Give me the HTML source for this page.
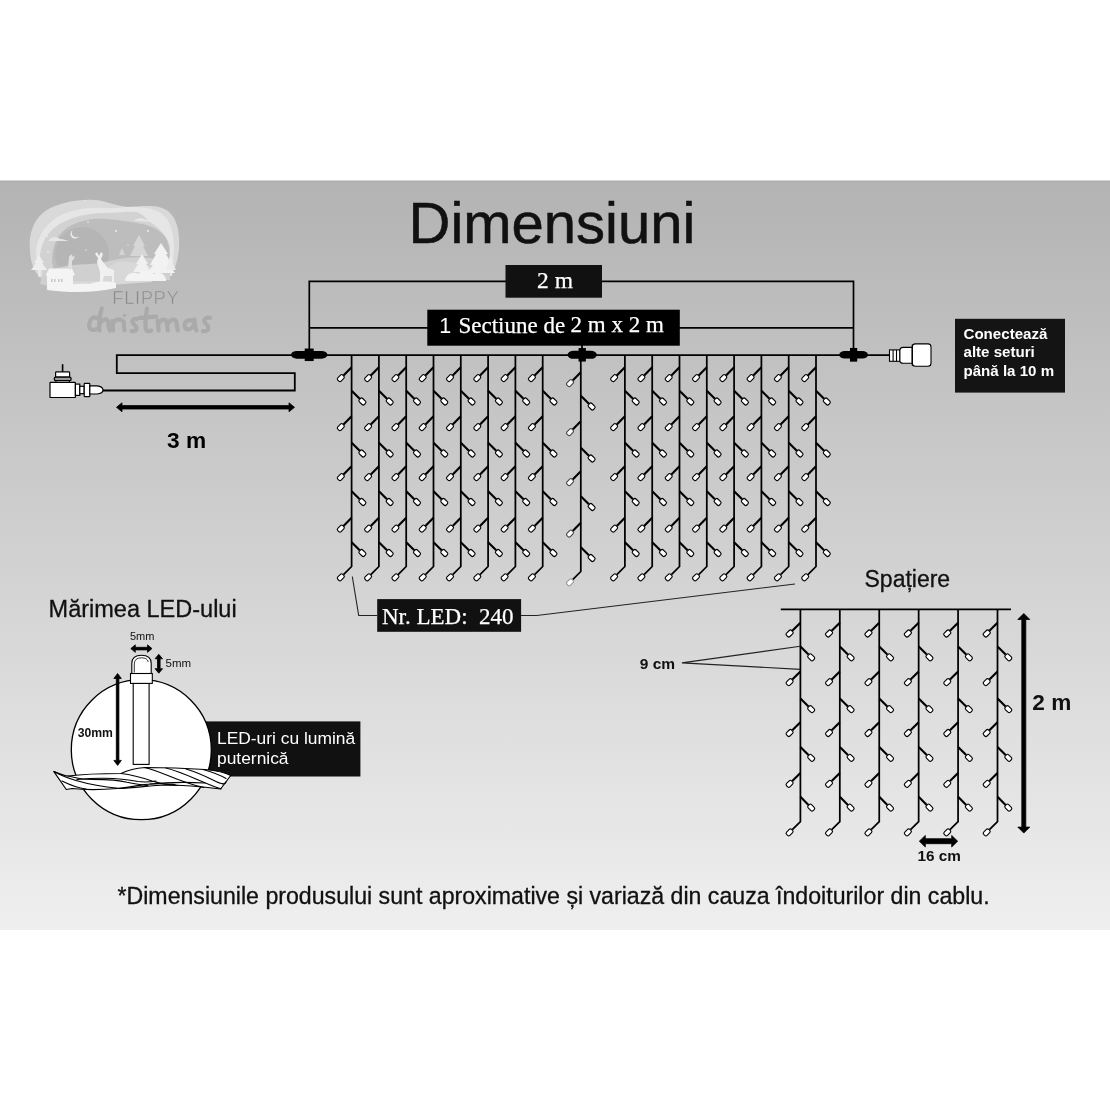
<!DOCTYPE html>
<html><head><meta charset="utf-8"><style>
html,body{margin:0;padding:0;background:#fff;width:1110px;height:1110px;overflow:hidden}
svg{display:block;font-family:"Liberation Sans",sans-serif;will-change:transform}
</style></head><body>
<svg width="1110" height="1110" viewBox="0 0 1110 1110">
<defs><linearGradient id="bg" x1="0" y1="0" x2="0" y2="1"><stop offset="0" stop-color="#b3b3b3"/><stop offset="1" stop-color="#efefef"/></linearGradient></defs>
<rect x="0" y="181" width="1110" height="749" fill="url(#bg)"/>
<rect x="0" y="180.5" width="1110" height="1.2" fill="#ababab"/>
<g>
<path d="M30,250 C28,228 38,212 55,206 C68,201 82,199 95,200 C108,201 118,207 130,207 C145,206 158,204 168,211 C177,218 180,232 179,248 C178,262 174,272 169,277 L160,281 L112,281 C104,283 98,286 90,288 C80,291 70,292 62,290 C50,286 40,279 35,271 C32,265 30,258 30,250 Z" fill="#d9d9d9"/>
<path d="M36,252 C38,232 50,219 66,213 C80,208 92,207 104,208 C116,209 126,206 138,207 C150,208 160,210 166,218 C172,226 174,236 174,250 L172,276 L40,276 C37,268 36,260 36,252 Z" fill="#e6e6e6"/>
<path d="M40,255 C42,238 52,226 68,220 C80,215 92,213 104,213 C116,213 126,211 136,212 C142,213 145,218 150,222 C158,227 166,234 170,246 L170,276 L42,276 Z" fill="#d2d2d2"/>
<path d="M52,262 C52,244 58,232 72,225 C84,219 96,218 108,219 C120,220 132,222 142,224 C152,226 160,230 166,238 C170,246 170,256 168,270 L56,280 Z" fill="#bdbdbd"/>
<circle cx="82" cy="254" r="27" fill="#b5b5b5"/>
<path d="M52,270 C70,262 90,266 105,262 C120,258 135,256 150,258 C160,259 166,262 170,265 L170,280 L52,282 Z" fill="#d0d0d0"/>
<path d="M96,286 C102,276 108,264 118,262 C128,260 140,264 150,266 L152,282 Z" fill="#d8d8d8"/>
<path d="M42,276 L50,268 L54,274 L48,286 L40,284 Z" fill="#cfcfcf"/>
<path d="M39,255 L44,263 L42,263 L47,270 L31,270 L36,263 L34,263 Z" fill="#eeeeee"/>
<rect x="38.5" y="269" width="1.4" height="8" fill="#eeeeee"/>
<path d="M45.5,275.5 L49,268.5 L72,268.5 L75,275.5 Z" fill="#f4f4f4"/>
<rect x="47" y="275" width="26" height="14.5" fill="#f4f4f4"/>
<rect x="51" y="279" width="1.6" height="3" fill="#c8c8c8"/><rect x="54" y="279" width="1.6" height="3" fill="#c8c8c8"/>
<rect x="58" y="279" width="1.6" height="3" fill="#c8c8c8"/><rect x="61" y="279" width="1.6" height="3" fill="#c8c8c8"/>
<path d="M69,257 L71,254 L73,257 L75,255 L74,259 L72,261 L72,268 L70,270 L68,268 Z" fill="#dedede"/>
<path d="M95,254 L97,252 L99,256 L101,252 L103,254 L101,259 L103,262 L108,268 L114,270 L114,282 L112,283 L112,276 L104,276 L102,284 L100,284 L100,272 L97,262 L98,258 Z" fill="#f0f0f0"/>
<path d="M139,235 L145,246 L143,246 L148,256 L130,256 L135,246 L133,246 Z" fill="#d6d6d6"/>
<path d="M122,248 L125,255 L119,255 Z" fill="#d4d4d4"/>
<path d="M142,254 L148,264 L146,264 L151,272 L133,272 L138,264 L136,264 Z" fill="#f0f0f0"/>
<path d="M161,243 L168,254 L166,254 L172,265 L169,265 L175,273 L147,273 L153,265 L150,265 L156,254 L154,254 Z" fill="#f2f2f2"/>
<rect x="160" y="272" width="1.6" height="9" fill="#f0f0f0"/>
<path d="M170,256 L174,262 L172,262 L176,270 L166,270 Z" fill="#ececec"/>
<path d="M125,281 C126,274 132,271 138,274 C142,270 150,270 154,274 C158,271 164,273 166,279 L166,281 Z" fill="#f3f3f3"/>
<path d="M46,290 C60,285 75,283 90,284 C98,281 108,281 116,283 L116,288 C95,293 70,293 46,290 Z" fill="#f4f4f4"/>
<path d="M73,230 A4.5,4.5 0 1 0 79,236 A3.5,3.5 0 0 1 73,230 Z" fill="#eeeeee"/>
<circle cx="116" cy="231" r="0.9" fill="#f5f5f5"/><circle cx="148" cy="231" r="0.9" fill="#f5f5f5"/>
<circle cx="88" cy="222" r="0.7" fill="#f5f5f5"/><circle cx="47" cy="236" r="0.7" fill="#f5f5f5"/>
<circle cx="48" cy="252" r="0.8" fill="#f5f5f5"/><circle cx="86" cy="250" r="0.7" fill="#f5f5f5"/>
<circle cx="128" cy="245" r="0.6" fill="#f5f5f5"/><circle cx="85" cy="201" r="0.6" fill="#f5f5f5"/>
<path d="M48,241 C50,237 56,236 60,239 C64,239 68,241 69,241 Z" fill="#e6e6e6"/>
<path d="M134,221 C136,218 142,217 146,220 C150,220 153,222 154,222 Z" fill="#e6e6e6"/>
</g>
<text x="112.3" y="303.8" font-family="Liberation Sans" font-size="18.5" fill="#8a8a8a" stroke="#bdbdbd" stroke-width="0.55" textLength="66.5" lengthAdjust="spacing" style="font-weight:normal">FLIPPY</text>
<g transform="translate(80.2,281) scale(0.1285,0.1261)" fill="none" stroke="#aaaaaa" stroke-width="33" stroke-linecap="round" stroke-linejoin="round">
<path d="M128,292 C100,280 72,305 70,345 C68,385 95,400 130,380"/>
<path d="M168,218 C150,270 145,340 150,392 M152,340 C165,310 195,295 210,310 C225,325 215,370 232,392"/>
<path d="M250,318 C255,350 252,375 255,392 M255,335 C270,305 295,298 318,310"/>
<path d="M338,322 C342,350 340,375 345,392"/>
<path d="M440,300 C410,295 392,318 420,345 C450,370 445,400 400,398"/>
<path d="M520,218 C510,280 505,350 512,388 C518,402 540,400 552,392 M462,292 C500,290 550,285 592,282"/>
<path d="M602,315 C608,345 606,370 610,392 M608,340 C625,305 660,295 672,320 C680,345 676,370 682,392 M680,340 C700,305 735,295 748,320 C755,345 752,370 760,392"/>
<path d="M880,318 C845,300 810,320 812,355 C815,392 860,395 882,352 M890,305 C892,340 890,370 905,392"/>
<path d="M1010,292 C975,285 950,308 978,338 C1005,365 1010,400 955,398"/>
<circle cx="345" cy="272" r="13" fill="#aaaaaa" stroke="none"/>
</g>
<text x="408.5" y="243.2" font-family="Liberation Sans" font-size="58" fill="#111" stroke="#111" stroke-width="0.55">Dimensiuni</text>
<polyline points="309.3,355 309.3,281.3 853.5,281.3 853.5,355" fill="none" stroke="#000" stroke-width="1.7"/>
<line x1="309.3" y1="327.8" x2="853.5" y2="327.8" stroke="#000" stroke-width="1.8"/>
<line x1="582" y1="340" x2="582" y2="355" stroke="#000" stroke-width="1.8"/>
<rect x="505.5" y="265" width="96.5" height="32.7" fill="#111"/>
<text x="537" y="287.5" font-family="Liberation Serif" font-size="23.5" fill="#fff" stroke="#fff" stroke-width="0.25">2 m</text>
<rect x="427.3" y="309.7" width="252.5" height="36" fill="#000"/>
<text x="439.3" y="332.8" font-family="Liberation Sans" font-size="21.5" fill="#fff">1</text>
<text x="458.5" y="332.8" font-family="Liberation Serif" font-size="23" fill="#fff" stroke="#fff" stroke-width="0.25">Sectiune de</text>
<text x="570.5" y="331.6" font-family="Liberation Serif" font-size="23" fill="#fff" stroke="#fff" stroke-width="0.25">2 m x 2 m</text>
<polyline points="102.7,390.5 294.8,390.5 294.8,373.1 116.8,373.1 116.8,355.2 889.5,355.2" fill="none" stroke="#000" stroke-width="1.8" stroke-linejoin="miter"/>
<path d="M116.5,407.3 L122.0,402.8 L122.0,405.6 L289.0,405.6 L289.0,402.8 L294.5,407.3 L289.0,411.8 L289.0,409.0 L122.0,409.0 L122.0,411.8 Z" fill="#000" stroke="#000" stroke-width="0.8" stroke-linejoin="round"/>
<text x="167" y="448" font-family="Liberation Sans" font-size="22.7" font-weight="bold" fill="#000">3 m</text>
<g fill="#fff" stroke="#000" stroke-width="1.2">
<line x1="62.6" y1="364.2" x2="62.6" y2="372" stroke-width="1.6"/>
<rect x="56" y="380" width="13.3" height="2.8" stroke-width="1"/>
<rect x="55.6" y="371.8" width="14" height="5.4" rx="0.8"/>
<rect x="54.2" y="377.2" width="17" height="3.4" rx="1.7" fill="#9a9a9a"/>
<rect x="50" y="382.3" width="25.4" height="15.2" rx="0.6"/>
<rect x="75.4" y="384.1" width="4.4" height="11.3"/>
<rect x="79.8" y="386.3" width="4.4" height="7.4"/>
<rect x="84.2" y="383.4" width="5.6" height="13.2" rx="0.5"/>
<path d="M89.8,385.9 L97,385.9 C100.5,386.3 103,387.8 103,390.1 C103,392.4 100.5,393.8 97,394 L89.8,394 Z"/>
</g>
<rect x="291.0" y="350.90000000000003" width="36.4" height="7.8" rx="5.85" ry="3.9" fill="#000"/><rect x="304.7" y="348.55" width="9" height="12.5" fill="#000"/>
<rect x="567.5500000000001" y="350.75" width="29.3" height="8.1" rx="6.074999999999999" ry="4.05" fill="#000"/><rect x="578.5500000000001" y="348.05" width="7.3" height="13.5" fill="#000"/>
<rect x="839.2" y="351.1" width="28.8" height="7.4" rx="5.550000000000001" ry="3.7" fill="#000"/><rect x="850.0" y="347.95" width="7.2" height="13.7" fill="#000"/>
<g fill="#fff" stroke="#000" stroke-width="1.1">
<rect x="889.5" y="349.9" width="10.4" height="11.4"/>
<line x1="893.1" y1="349.9" x2="893.1" y2="361.3"/><line x1="896.5" y1="349.9" x2="896.5" y2="361.3"/>
<path d="M899.9,349.9 Q900.3,347.4 903,347.4 L912.3,347.4 L912.3,363.2 L903,363.2 Q900.3,363.2 899.9,361.3 Z"/>
<rect x="912.3" y="343.9" width="18.7" height="22.3" rx="3" ry="3"/>
</g>
<line x1="912.3" y1="344.4" x2="912.3" y2="365.7" stroke="#000" stroke-width="1.1"/>
<rect x="955" y="318.8" width="110" height="73.8" fill="#141414"/>
<text x="963.5" y="339.3" font-family="Liberation Sans" font-size="15.1" font-weight="bold" fill="#fff">Conectează</text>
<text x="963.5" y="357.4" font-family="Liberation Sans" font-size="15.1" font-weight="bold" fill="#fff">alte seturi</text>
<text x="963.5" y="375.5" font-family="Liberation Sans" font-size="15.1" font-weight="bold" fill="#fff">până la 10 m</text>
<polyline points="351.60,355.00 351.60,566.50 343.50,574.60" fill="none" stroke="#000" stroke-width="1.75" stroke-linejoin="miter" />
<rect x="337.30" y="574.95" width="7.0" height="4.7" rx="1.6" fill="#fff" stroke="#000" stroke-width="1.1" transform="rotate(-45 340.80 577.30)"/>
<line x1="351.60" y1="367.30" x2="343.50" y2="375.40" stroke="#000" stroke-width="2.15"/>
<rect x="337.30" y="375.75" width="7.0" height="4.7" rx="1.6" fill="#fff" stroke="#000" stroke-width="1.1" transform="rotate(-45 340.80 378.10)"/>
<line x1="351.60" y1="416.30" x2="343.50" y2="424.40" stroke="#000" stroke-width="2.15"/>
<rect x="337.30" y="424.75" width="7.0" height="4.7" rx="1.6" fill="#fff" stroke="#000" stroke-width="1.1" transform="rotate(-45 340.80 427.10)"/>
<line x1="351.60" y1="466.30" x2="343.50" y2="474.40" stroke="#000" stroke-width="2.15"/>
<rect x="337.30" y="474.75" width="7.0" height="4.7" rx="1.6" fill="#fff" stroke="#000" stroke-width="1.1" transform="rotate(-45 340.80 477.10)"/>
<line x1="351.60" y1="517.80" x2="343.50" y2="525.90" stroke="#000" stroke-width="2.15"/>
<rect x="337.30" y="526.25" width="7.0" height="4.7" rx="1.6" fill="#fff" stroke="#000" stroke-width="1.1" transform="rotate(-45 340.80 528.60)"/>
<line x1="351.60" y1="390.70" x2="359.70" y2="398.80" stroke="#000" stroke-width="2.15"/>
<rect x="358.90" y="399.15" width="7.0" height="4.7" rx="1.6" fill="#fff" stroke="#000" stroke-width="1.1" transform="rotate(45 362.40 401.50)"/>
<line x1="351.60" y1="442.70" x2="359.70" y2="450.80" stroke="#000" stroke-width="2.15"/>
<rect x="358.90" y="451.15" width="7.0" height="4.7" rx="1.6" fill="#fff" stroke="#000" stroke-width="1.1" transform="rotate(45 362.40 453.50)"/>
<line x1="351.60" y1="491.20" x2="359.70" y2="499.30" stroke="#000" stroke-width="2.15"/>
<rect x="358.90" y="499.65" width="7.0" height="4.7" rx="1.6" fill="#fff" stroke="#000" stroke-width="1.1" transform="rotate(45 362.40 502.00)"/>
<line x1="351.60" y1="542.20" x2="359.70" y2="550.30" stroke="#000" stroke-width="2.15"/>
<rect x="358.90" y="550.65" width="7.0" height="4.7" rx="1.6" fill="#fff" stroke="#000" stroke-width="1.1" transform="rotate(45 362.40 553.00)"/>
<polyline points="378.90,355.00 378.90,566.50 370.80,574.60" fill="none" stroke="#000" stroke-width="1.75" stroke-linejoin="miter" />
<rect x="364.60" y="574.95" width="7.0" height="4.7" rx="1.6" fill="#fff" stroke="#000" stroke-width="1.1" transform="rotate(-45 368.10 577.30)"/>
<line x1="378.90" y1="367.30" x2="370.80" y2="375.40" stroke="#000" stroke-width="2.15"/>
<rect x="364.60" y="375.75" width="7.0" height="4.7" rx="1.6" fill="#fff" stroke="#000" stroke-width="1.1" transform="rotate(-45 368.10 378.10)"/>
<line x1="378.90" y1="416.30" x2="370.80" y2="424.40" stroke="#000" stroke-width="2.15"/>
<rect x="364.60" y="424.75" width="7.0" height="4.7" rx="1.6" fill="#fff" stroke="#000" stroke-width="1.1" transform="rotate(-45 368.10 427.10)"/>
<line x1="378.90" y1="466.30" x2="370.80" y2="474.40" stroke="#000" stroke-width="2.15"/>
<rect x="364.60" y="474.75" width="7.0" height="4.7" rx="1.6" fill="#fff" stroke="#000" stroke-width="1.1" transform="rotate(-45 368.10 477.10)"/>
<line x1="378.90" y1="517.80" x2="370.80" y2="525.90" stroke="#000" stroke-width="2.15"/>
<rect x="364.60" y="526.25" width="7.0" height="4.7" rx="1.6" fill="#fff" stroke="#000" stroke-width="1.1" transform="rotate(-45 368.10 528.60)"/>
<line x1="378.90" y1="390.70" x2="387.00" y2="398.80" stroke="#000" stroke-width="2.15"/>
<rect x="386.20" y="399.15" width="7.0" height="4.7" rx="1.6" fill="#fff" stroke="#000" stroke-width="1.1" transform="rotate(45 389.70 401.50)"/>
<line x1="378.90" y1="442.70" x2="387.00" y2="450.80" stroke="#000" stroke-width="2.15"/>
<rect x="386.20" y="451.15" width="7.0" height="4.7" rx="1.6" fill="#fff" stroke="#000" stroke-width="1.1" transform="rotate(45 389.70 453.50)"/>
<line x1="378.90" y1="491.20" x2="387.00" y2="499.30" stroke="#000" stroke-width="2.15"/>
<rect x="386.20" y="499.65" width="7.0" height="4.7" rx="1.6" fill="#fff" stroke="#000" stroke-width="1.1" transform="rotate(45 389.70 502.00)"/>
<line x1="378.90" y1="542.20" x2="387.00" y2="550.30" stroke="#000" stroke-width="2.15"/>
<rect x="386.20" y="550.65" width="7.0" height="4.7" rx="1.6" fill="#fff" stroke="#000" stroke-width="1.1" transform="rotate(45 389.70 553.00)"/>
<polyline points="406.20,355.00 406.20,566.50 398.10,574.60" fill="none" stroke="#000" stroke-width="1.75" stroke-linejoin="miter" />
<rect x="391.90" y="574.95" width="7.0" height="4.7" rx="1.6" fill="#fff" stroke="#000" stroke-width="1.1" transform="rotate(-45 395.40 577.30)"/>
<line x1="406.20" y1="367.30" x2="398.10" y2="375.40" stroke="#000" stroke-width="2.15"/>
<rect x="391.90" y="375.75" width="7.0" height="4.7" rx="1.6" fill="#fff" stroke="#000" stroke-width="1.1" transform="rotate(-45 395.40 378.10)"/>
<line x1="406.20" y1="416.30" x2="398.10" y2="424.40" stroke="#000" stroke-width="2.15"/>
<rect x="391.90" y="424.75" width="7.0" height="4.7" rx="1.6" fill="#fff" stroke="#000" stroke-width="1.1" transform="rotate(-45 395.40 427.10)"/>
<line x1="406.20" y1="466.30" x2="398.10" y2="474.40" stroke="#000" stroke-width="2.15"/>
<rect x="391.90" y="474.75" width="7.0" height="4.7" rx="1.6" fill="#fff" stroke="#000" stroke-width="1.1" transform="rotate(-45 395.40 477.10)"/>
<line x1="406.20" y1="517.80" x2="398.10" y2="525.90" stroke="#000" stroke-width="2.15"/>
<rect x="391.90" y="526.25" width="7.0" height="4.7" rx="1.6" fill="#fff" stroke="#000" stroke-width="1.1" transform="rotate(-45 395.40 528.60)"/>
<line x1="406.20" y1="390.70" x2="414.30" y2="398.80" stroke="#000" stroke-width="2.15"/>
<rect x="413.50" y="399.15" width="7.0" height="4.7" rx="1.6" fill="#fff" stroke="#000" stroke-width="1.1" transform="rotate(45 417.00 401.50)"/>
<line x1="406.20" y1="442.70" x2="414.30" y2="450.80" stroke="#000" stroke-width="2.15"/>
<rect x="413.50" y="451.15" width="7.0" height="4.7" rx="1.6" fill="#fff" stroke="#000" stroke-width="1.1" transform="rotate(45 417.00 453.50)"/>
<line x1="406.20" y1="491.20" x2="414.30" y2="499.30" stroke="#000" stroke-width="2.15"/>
<rect x="413.50" y="499.65" width="7.0" height="4.7" rx="1.6" fill="#fff" stroke="#000" stroke-width="1.1" transform="rotate(45 417.00 502.00)"/>
<line x1="406.20" y1="542.20" x2="414.30" y2="550.30" stroke="#000" stroke-width="2.15"/>
<rect x="413.50" y="550.65" width="7.0" height="4.7" rx="1.6" fill="#fff" stroke="#000" stroke-width="1.1" transform="rotate(45 417.00 553.00)"/>
<polyline points="433.50,355.00 433.50,566.50 425.40,574.60" fill="none" stroke="#000" stroke-width="1.75" stroke-linejoin="miter" />
<rect x="419.20" y="574.95" width="7.0" height="4.7" rx="1.6" fill="#fff" stroke="#000" stroke-width="1.1" transform="rotate(-45 422.70 577.30)"/>
<line x1="433.50" y1="367.30" x2="425.40" y2="375.40" stroke="#000" stroke-width="2.15"/>
<rect x="419.20" y="375.75" width="7.0" height="4.7" rx="1.6" fill="#fff" stroke="#000" stroke-width="1.1" transform="rotate(-45 422.70 378.10)"/>
<line x1="433.50" y1="416.30" x2="425.40" y2="424.40" stroke="#000" stroke-width="2.15"/>
<rect x="419.20" y="424.75" width="7.0" height="4.7" rx="1.6" fill="#fff" stroke="#000" stroke-width="1.1" transform="rotate(-45 422.70 427.10)"/>
<line x1="433.50" y1="466.30" x2="425.40" y2="474.40" stroke="#000" stroke-width="2.15"/>
<rect x="419.20" y="474.75" width="7.0" height="4.7" rx="1.6" fill="#fff" stroke="#000" stroke-width="1.1" transform="rotate(-45 422.70 477.10)"/>
<line x1="433.50" y1="517.80" x2="425.40" y2="525.90" stroke="#000" stroke-width="2.15"/>
<rect x="419.20" y="526.25" width="7.0" height="4.7" rx="1.6" fill="#fff" stroke="#000" stroke-width="1.1" transform="rotate(-45 422.70 528.60)"/>
<line x1="433.50" y1="390.70" x2="441.60" y2="398.80" stroke="#000" stroke-width="2.15"/>
<rect x="440.80" y="399.15" width="7.0" height="4.7" rx="1.6" fill="#fff" stroke="#000" stroke-width="1.1" transform="rotate(45 444.30 401.50)"/>
<line x1="433.50" y1="442.70" x2="441.60" y2="450.80" stroke="#000" stroke-width="2.15"/>
<rect x="440.80" y="451.15" width="7.0" height="4.7" rx="1.6" fill="#fff" stroke="#000" stroke-width="1.1" transform="rotate(45 444.30 453.50)"/>
<line x1="433.50" y1="491.20" x2="441.60" y2="499.30" stroke="#000" stroke-width="2.15"/>
<rect x="440.80" y="499.65" width="7.0" height="4.7" rx="1.6" fill="#fff" stroke="#000" stroke-width="1.1" transform="rotate(45 444.30 502.00)"/>
<line x1="433.50" y1="542.20" x2="441.60" y2="550.30" stroke="#000" stroke-width="2.15"/>
<rect x="440.80" y="550.65" width="7.0" height="4.7" rx="1.6" fill="#fff" stroke="#000" stroke-width="1.1" transform="rotate(45 444.30 553.00)"/>
<polyline points="460.80,355.00 460.80,566.50 452.70,574.60" fill="none" stroke="#000" stroke-width="1.75" stroke-linejoin="miter" />
<rect x="446.50" y="574.95" width="7.0" height="4.7" rx="1.6" fill="#fff" stroke="#000" stroke-width="1.1" transform="rotate(-45 450.00 577.30)"/>
<line x1="460.80" y1="367.30" x2="452.70" y2="375.40" stroke="#000" stroke-width="2.15"/>
<rect x="446.50" y="375.75" width="7.0" height="4.7" rx="1.6" fill="#fff" stroke="#000" stroke-width="1.1" transform="rotate(-45 450.00 378.10)"/>
<line x1="460.80" y1="416.30" x2="452.70" y2="424.40" stroke="#000" stroke-width="2.15"/>
<rect x="446.50" y="424.75" width="7.0" height="4.7" rx="1.6" fill="#fff" stroke="#000" stroke-width="1.1" transform="rotate(-45 450.00 427.10)"/>
<line x1="460.80" y1="466.30" x2="452.70" y2="474.40" stroke="#000" stroke-width="2.15"/>
<rect x="446.50" y="474.75" width="7.0" height="4.7" rx="1.6" fill="#fff" stroke="#000" stroke-width="1.1" transform="rotate(-45 450.00 477.10)"/>
<line x1="460.80" y1="517.80" x2="452.70" y2="525.90" stroke="#000" stroke-width="2.15"/>
<rect x="446.50" y="526.25" width="7.0" height="4.7" rx="1.6" fill="#fff" stroke="#000" stroke-width="1.1" transform="rotate(-45 450.00 528.60)"/>
<line x1="460.80" y1="390.70" x2="468.90" y2="398.80" stroke="#000" stroke-width="2.15"/>
<rect x="468.10" y="399.15" width="7.0" height="4.7" rx="1.6" fill="#fff" stroke="#000" stroke-width="1.1" transform="rotate(45 471.60 401.50)"/>
<line x1="460.80" y1="442.70" x2="468.90" y2="450.80" stroke="#000" stroke-width="2.15"/>
<rect x="468.10" y="451.15" width="7.0" height="4.7" rx="1.6" fill="#fff" stroke="#000" stroke-width="1.1" transform="rotate(45 471.60 453.50)"/>
<line x1="460.80" y1="491.20" x2="468.90" y2="499.30" stroke="#000" stroke-width="2.15"/>
<rect x="468.10" y="499.65" width="7.0" height="4.7" rx="1.6" fill="#fff" stroke="#000" stroke-width="1.1" transform="rotate(45 471.60 502.00)"/>
<line x1="460.80" y1="542.20" x2="468.90" y2="550.30" stroke="#000" stroke-width="2.15"/>
<rect x="468.10" y="550.65" width="7.0" height="4.7" rx="1.6" fill="#fff" stroke="#000" stroke-width="1.1" transform="rotate(45 471.60 553.00)"/>
<polyline points="488.10,355.00 488.10,566.50 480.00,574.60" fill="none" stroke="#000" stroke-width="1.75" stroke-linejoin="miter" />
<rect x="473.80" y="574.95" width="7.0" height="4.7" rx="1.6" fill="#fff" stroke="#000" stroke-width="1.1" transform="rotate(-45 477.30 577.30)"/>
<line x1="488.10" y1="367.30" x2="480.00" y2="375.40" stroke="#000" stroke-width="2.15"/>
<rect x="473.80" y="375.75" width="7.0" height="4.7" rx="1.6" fill="#fff" stroke="#000" stroke-width="1.1" transform="rotate(-45 477.30 378.10)"/>
<line x1="488.10" y1="416.30" x2="480.00" y2="424.40" stroke="#000" stroke-width="2.15"/>
<rect x="473.80" y="424.75" width="7.0" height="4.7" rx="1.6" fill="#fff" stroke="#000" stroke-width="1.1" transform="rotate(-45 477.30 427.10)"/>
<line x1="488.10" y1="466.30" x2="480.00" y2="474.40" stroke="#000" stroke-width="2.15"/>
<rect x="473.80" y="474.75" width="7.0" height="4.7" rx="1.6" fill="#fff" stroke="#000" stroke-width="1.1" transform="rotate(-45 477.30 477.10)"/>
<line x1="488.10" y1="517.80" x2="480.00" y2="525.90" stroke="#000" stroke-width="2.15"/>
<rect x="473.80" y="526.25" width="7.0" height="4.7" rx="1.6" fill="#fff" stroke="#000" stroke-width="1.1" transform="rotate(-45 477.30 528.60)"/>
<line x1="488.10" y1="390.70" x2="496.20" y2="398.80" stroke="#000" stroke-width="2.15"/>
<rect x="495.40" y="399.15" width="7.0" height="4.7" rx="1.6" fill="#fff" stroke="#000" stroke-width="1.1" transform="rotate(45 498.90 401.50)"/>
<line x1="488.10" y1="442.70" x2="496.20" y2="450.80" stroke="#000" stroke-width="2.15"/>
<rect x="495.40" y="451.15" width="7.0" height="4.7" rx="1.6" fill="#fff" stroke="#000" stroke-width="1.1" transform="rotate(45 498.90 453.50)"/>
<line x1="488.10" y1="491.20" x2="496.20" y2="499.30" stroke="#000" stroke-width="2.15"/>
<rect x="495.40" y="499.65" width="7.0" height="4.7" rx="1.6" fill="#fff" stroke="#000" stroke-width="1.1" transform="rotate(45 498.90 502.00)"/>
<line x1="488.10" y1="542.20" x2="496.20" y2="550.30" stroke="#000" stroke-width="2.15"/>
<rect x="495.40" y="550.65" width="7.0" height="4.7" rx="1.6" fill="#fff" stroke="#000" stroke-width="1.1" transform="rotate(45 498.90 553.00)"/>
<polyline points="515.40,355.00 515.40,566.50 507.30,574.60" fill="none" stroke="#000" stroke-width="1.75" stroke-linejoin="miter" />
<rect x="501.10" y="574.95" width="7.0" height="4.7" rx="1.6" fill="#fff" stroke="#000" stroke-width="1.1" transform="rotate(-45 504.60 577.30)"/>
<line x1="515.40" y1="367.30" x2="507.30" y2="375.40" stroke="#000" stroke-width="2.15"/>
<rect x="501.10" y="375.75" width="7.0" height="4.7" rx="1.6" fill="#fff" stroke="#000" stroke-width="1.1" transform="rotate(-45 504.60 378.10)"/>
<line x1="515.40" y1="416.30" x2="507.30" y2="424.40" stroke="#000" stroke-width="2.15"/>
<rect x="501.10" y="424.75" width="7.0" height="4.7" rx="1.6" fill="#fff" stroke="#000" stroke-width="1.1" transform="rotate(-45 504.60 427.10)"/>
<line x1="515.40" y1="466.30" x2="507.30" y2="474.40" stroke="#000" stroke-width="2.15"/>
<rect x="501.10" y="474.75" width="7.0" height="4.7" rx="1.6" fill="#fff" stroke="#000" stroke-width="1.1" transform="rotate(-45 504.60 477.10)"/>
<line x1="515.40" y1="517.80" x2="507.30" y2="525.90" stroke="#000" stroke-width="2.15"/>
<rect x="501.10" y="526.25" width="7.0" height="4.7" rx="1.6" fill="#fff" stroke="#000" stroke-width="1.1" transform="rotate(-45 504.60 528.60)"/>
<line x1="515.40" y1="390.70" x2="523.50" y2="398.80" stroke="#000" stroke-width="2.15"/>
<rect x="522.70" y="399.15" width="7.0" height="4.7" rx="1.6" fill="#fff" stroke="#000" stroke-width="1.1" transform="rotate(45 526.20 401.50)"/>
<line x1="515.40" y1="442.70" x2="523.50" y2="450.80" stroke="#000" stroke-width="2.15"/>
<rect x="522.70" y="451.15" width="7.0" height="4.7" rx="1.6" fill="#fff" stroke="#000" stroke-width="1.1" transform="rotate(45 526.20 453.50)"/>
<line x1="515.40" y1="491.20" x2="523.50" y2="499.30" stroke="#000" stroke-width="2.15"/>
<rect x="522.70" y="499.65" width="7.0" height="4.7" rx="1.6" fill="#fff" stroke="#000" stroke-width="1.1" transform="rotate(45 526.20 502.00)"/>
<line x1="515.40" y1="542.20" x2="523.50" y2="550.30" stroke="#000" stroke-width="2.15"/>
<rect x="522.70" y="550.65" width="7.0" height="4.7" rx="1.6" fill="#fff" stroke="#000" stroke-width="1.1" transform="rotate(45 526.20 553.00)"/>
<polyline points="542.70,355.00 542.70,566.50 534.60,574.60" fill="none" stroke="#000" stroke-width="1.75" stroke-linejoin="miter" />
<rect x="528.40" y="574.95" width="7.0" height="4.7" rx="1.6" fill="#fff" stroke="#000" stroke-width="1.1" transform="rotate(-45 531.90 577.30)"/>
<line x1="542.70" y1="367.30" x2="534.60" y2="375.40" stroke="#000" stroke-width="2.15"/>
<rect x="528.40" y="375.75" width="7.0" height="4.7" rx="1.6" fill="#fff" stroke="#000" stroke-width="1.1" transform="rotate(-45 531.90 378.10)"/>
<line x1="542.70" y1="416.30" x2="534.60" y2="424.40" stroke="#000" stroke-width="2.15"/>
<rect x="528.40" y="424.75" width="7.0" height="4.7" rx="1.6" fill="#fff" stroke="#000" stroke-width="1.1" transform="rotate(-45 531.90 427.10)"/>
<line x1="542.70" y1="466.30" x2="534.60" y2="474.40" stroke="#000" stroke-width="2.15"/>
<rect x="528.40" y="474.75" width="7.0" height="4.7" rx="1.6" fill="#fff" stroke="#000" stroke-width="1.1" transform="rotate(-45 531.90 477.10)"/>
<line x1="542.70" y1="517.80" x2="534.60" y2="525.90" stroke="#000" stroke-width="2.15"/>
<rect x="528.40" y="526.25" width="7.0" height="4.7" rx="1.6" fill="#fff" stroke="#000" stroke-width="1.1" transform="rotate(-45 531.90 528.60)"/>
<line x1="542.70" y1="390.70" x2="550.80" y2="398.80" stroke="#000" stroke-width="2.15"/>
<rect x="550.00" y="399.15" width="7.0" height="4.7" rx="1.6" fill="#fff" stroke="#000" stroke-width="1.1" transform="rotate(45 553.50 401.50)"/>
<line x1="542.70" y1="442.70" x2="550.80" y2="450.80" stroke="#000" stroke-width="2.15"/>
<rect x="550.00" y="451.15" width="7.0" height="4.7" rx="1.6" fill="#fff" stroke="#000" stroke-width="1.1" transform="rotate(45 553.50 453.50)"/>
<line x1="542.70" y1="491.20" x2="550.80" y2="499.30" stroke="#000" stroke-width="2.15"/>
<rect x="550.00" y="499.65" width="7.0" height="4.7" rx="1.6" fill="#fff" stroke="#000" stroke-width="1.1" transform="rotate(45 553.50 502.00)"/>
<line x1="542.70" y1="542.20" x2="550.80" y2="550.30" stroke="#000" stroke-width="2.15"/>
<rect x="550.00" y="550.65" width="7.0" height="4.7" rx="1.6" fill="#fff" stroke="#000" stroke-width="1.1" transform="rotate(45 553.50 553.00)"/>
<polyline points="624.90,355.00 624.90,566.50 616.80,574.60" fill="none" stroke="#000" stroke-width="1.75" stroke-linejoin="miter" />
<rect x="610.60" y="574.95" width="7.0" height="4.7" rx="1.6" fill="#fff" stroke="#000" stroke-width="1.1" transform="rotate(-45 614.10 577.30)"/>
<line x1="624.90" y1="367.30" x2="616.80" y2="375.40" stroke="#000" stroke-width="2.15"/>
<rect x="610.60" y="375.75" width="7.0" height="4.7" rx="1.6" fill="#fff" stroke="#000" stroke-width="1.1" transform="rotate(-45 614.10 378.10)"/>
<line x1="624.90" y1="416.30" x2="616.80" y2="424.40" stroke="#000" stroke-width="2.15"/>
<rect x="610.60" y="424.75" width="7.0" height="4.7" rx="1.6" fill="#fff" stroke="#000" stroke-width="1.1" transform="rotate(-45 614.10 427.10)"/>
<line x1="624.90" y1="466.30" x2="616.80" y2="474.40" stroke="#000" stroke-width="2.15"/>
<rect x="610.60" y="474.75" width="7.0" height="4.7" rx="1.6" fill="#fff" stroke="#000" stroke-width="1.1" transform="rotate(-45 614.10 477.10)"/>
<line x1="624.90" y1="517.80" x2="616.80" y2="525.90" stroke="#000" stroke-width="2.15"/>
<rect x="610.60" y="526.25" width="7.0" height="4.7" rx="1.6" fill="#fff" stroke="#000" stroke-width="1.1" transform="rotate(-45 614.10 528.60)"/>
<line x1="624.90" y1="390.70" x2="633.00" y2="398.80" stroke="#000" stroke-width="2.15"/>
<rect x="632.20" y="399.15" width="7.0" height="4.7" rx="1.6" fill="#fff" stroke="#000" stroke-width="1.1" transform="rotate(45 635.70 401.50)"/>
<line x1="624.90" y1="442.70" x2="633.00" y2="450.80" stroke="#000" stroke-width="2.15"/>
<rect x="632.20" y="451.15" width="7.0" height="4.7" rx="1.6" fill="#fff" stroke="#000" stroke-width="1.1" transform="rotate(45 635.70 453.50)"/>
<line x1="624.90" y1="491.20" x2="633.00" y2="499.30" stroke="#000" stroke-width="2.15"/>
<rect x="632.20" y="499.65" width="7.0" height="4.7" rx="1.6" fill="#fff" stroke="#000" stroke-width="1.1" transform="rotate(45 635.70 502.00)"/>
<line x1="624.90" y1="542.20" x2="633.00" y2="550.30" stroke="#000" stroke-width="2.15"/>
<rect x="632.20" y="550.65" width="7.0" height="4.7" rx="1.6" fill="#fff" stroke="#000" stroke-width="1.1" transform="rotate(45 635.70 553.00)"/>
<polyline points="652.20,355.00 652.20,566.50 644.10,574.60" fill="none" stroke="#000" stroke-width="1.75" stroke-linejoin="miter" />
<rect x="637.90" y="574.95" width="7.0" height="4.7" rx="1.6" fill="#fff" stroke="#000" stroke-width="1.1" transform="rotate(-45 641.40 577.30)"/>
<line x1="652.20" y1="367.30" x2="644.10" y2="375.40" stroke="#000" stroke-width="2.15"/>
<rect x="637.90" y="375.75" width="7.0" height="4.7" rx="1.6" fill="#fff" stroke="#000" stroke-width="1.1" transform="rotate(-45 641.40 378.10)"/>
<line x1="652.20" y1="416.30" x2="644.10" y2="424.40" stroke="#000" stroke-width="2.15"/>
<rect x="637.90" y="424.75" width="7.0" height="4.7" rx="1.6" fill="#fff" stroke="#000" stroke-width="1.1" transform="rotate(-45 641.40 427.10)"/>
<line x1="652.20" y1="466.30" x2="644.10" y2="474.40" stroke="#000" stroke-width="2.15"/>
<rect x="637.90" y="474.75" width="7.0" height="4.7" rx="1.6" fill="#fff" stroke="#000" stroke-width="1.1" transform="rotate(-45 641.40 477.10)"/>
<line x1="652.20" y1="517.80" x2="644.10" y2="525.90" stroke="#000" stroke-width="2.15"/>
<rect x="637.90" y="526.25" width="7.0" height="4.7" rx="1.6" fill="#fff" stroke="#000" stroke-width="1.1" transform="rotate(-45 641.40 528.60)"/>
<line x1="652.20" y1="390.70" x2="660.30" y2="398.80" stroke="#000" stroke-width="2.15"/>
<rect x="659.50" y="399.15" width="7.0" height="4.7" rx="1.6" fill="#fff" stroke="#000" stroke-width="1.1" transform="rotate(45 663.00 401.50)"/>
<line x1="652.20" y1="442.70" x2="660.30" y2="450.80" stroke="#000" stroke-width="2.15"/>
<rect x="659.50" y="451.15" width="7.0" height="4.7" rx="1.6" fill="#fff" stroke="#000" stroke-width="1.1" transform="rotate(45 663.00 453.50)"/>
<line x1="652.20" y1="491.20" x2="660.30" y2="499.30" stroke="#000" stroke-width="2.15"/>
<rect x="659.50" y="499.65" width="7.0" height="4.7" rx="1.6" fill="#fff" stroke="#000" stroke-width="1.1" transform="rotate(45 663.00 502.00)"/>
<line x1="652.20" y1="542.20" x2="660.30" y2="550.30" stroke="#000" stroke-width="2.15"/>
<rect x="659.50" y="550.65" width="7.0" height="4.7" rx="1.6" fill="#fff" stroke="#000" stroke-width="1.1" transform="rotate(45 663.00 553.00)"/>
<polyline points="679.50,355.00 679.50,566.50 671.40,574.60" fill="none" stroke="#000" stroke-width="1.75" stroke-linejoin="miter" />
<rect x="665.20" y="574.95" width="7.0" height="4.7" rx="1.6" fill="#fff" stroke="#000" stroke-width="1.1" transform="rotate(-45 668.70 577.30)"/>
<line x1="679.50" y1="367.30" x2="671.40" y2="375.40" stroke="#000" stroke-width="2.15"/>
<rect x="665.20" y="375.75" width="7.0" height="4.7" rx="1.6" fill="#fff" stroke="#000" stroke-width="1.1" transform="rotate(-45 668.70 378.10)"/>
<line x1="679.50" y1="416.30" x2="671.40" y2="424.40" stroke="#000" stroke-width="2.15"/>
<rect x="665.20" y="424.75" width="7.0" height="4.7" rx="1.6" fill="#fff" stroke="#000" stroke-width="1.1" transform="rotate(-45 668.70 427.10)"/>
<line x1="679.50" y1="466.30" x2="671.40" y2="474.40" stroke="#000" stroke-width="2.15"/>
<rect x="665.20" y="474.75" width="7.0" height="4.7" rx="1.6" fill="#fff" stroke="#000" stroke-width="1.1" transform="rotate(-45 668.70 477.10)"/>
<line x1="679.50" y1="517.80" x2="671.40" y2="525.90" stroke="#000" stroke-width="2.15"/>
<rect x="665.20" y="526.25" width="7.0" height="4.7" rx="1.6" fill="#fff" stroke="#000" stroke-width="1.1" transform="rotate(-45 668.70 528.60)"/>
<line x1="679.50" y1="390.70" x2="687.60" y2="398.80" stroke="#000" stroke-width="2.15"/>
<rect x="686.80" y="399.15" width="7.0" height="4.7" rx="1.6" fill="#fff" stroke="#000" stroke-width="1.1" transform="rotate(45 690.30 401.50)"/>
<line x1="679.50" y1="442.70" x2="687.60" y2="450.80" stroke="#000" stroke-width="2.15"/>
<rect x="686.80" y="451.15" width="7.0" height="4.7" rx="1.6" fill="#fff" stroke="#000" stroke-width="1.1" transform="rotate(45 690.30 453.50)"/>
<line x1="679.50" y1="491.20" x2="687.60" y2="499.30" stroke="#000" stroke-width="2.15"/>
<rect x="686.80" y="499.65" width="7.0" height="4.7" rx="1.6" fill="#fff" stroke="#000" stroke-width="1.1" transform="rotate(45 690.30 502.00)"/>
<line x1="679.50" y1="542.20" x2="687.60" y2="550.30" stroke="#000" stroke-width="2.15"/>
<rect x="686.80" y="550.65" width="7.0" height="4.7" rx="1.6" fill="#fff" stroke="#000" stroke-width="1.1" transform="rotate(45 690.30 553.00)"/>
<polyline points="706.80,355.00 706.80,566.50 698.70,574.60" fill="none" stroke="#000" stroke-width="1.75" stroke-linejoin="miter" />
<rect x="692.50" y="574.95" width="7.0" height="4.7" rx="1.6" fill="#fff" stroke="#000" stroke-width="1.1" transform="rotate(-45 696.00 577.30)"/>
<line x1="706.80" y1="367.30" x2="698.70" y2="375.40" stroke="#000" stroke-width="2.15"/>
<rect x="692.50" y="375.75" width="7.0" height="4.7" rx="1.6" fill="#fff" stroke="#000" stroke-width="1.1" transform="rotate(-45 696.00 378.10)"/>
<line x1="706.80" y1="416.30" x2="698.70" y2="424.40" stroke="#000" stroke-width="2.15"/>
<rect x="692.50" y="424.75" width="7.0" height="4.7" rx="1.6" fill="#fff" stroke="#000" stroke-width="1.1" transform="rotate(-45 696.00 427.10)"/>
<line x1="706.80" y1="466.30" x2="698.70" y2="474.40" stroke="#000" stroke-width="2.15"/>
<rect x="692.50" y="474.75" width="7.0" height="4.7" rx="1.6" fill="#fff" stroke="#000" stroke-width="1.1" transform="rotate(-45 696.00 477.10)"/>
<line x1="706.80" y1="517.80" x2="698.70" y2="525.90" stroke="#000" stroke-width="2.15"/>
<rect x="692.50" y="526.25" width="7.0" height="4.7" rx="1.6" fill="#fff" stroke="#000" stroke-width="1.1" transform="rotate(-45 696.00 528.60)"/>
<line x1="706.80" y1="390.70" x2="714.90" y2="398.80" stroke="#000" stroke-width="2.15"/>
<rect x="714.10" y="399.15" width="7.0" height="4.7" rx="1.6" fill="#fff" stroke="#000" stroke-width="1.1" transform="rotate(45 717.60 401.50)"/>
<line x1="706.80" y1="442.70" x2="714.90" y2="450.80" stroke="#000" stroke-width="2.15"/>
<rect x="714.10" y="451.15" width="7.0" height="4.7" rx="1.6" fill="#fff" stroke="#000" stroke-width="1.1" transform="rotate(45 717.60 453.50)"/>
<line x1="706.80" y1="491.20" x2="714.90" y2="499.30" stroke="#000" stroke-width="2.15"/>
<rect x="714.10" y="499.65" width="7.0" height="4.7" rx="1.6" fill="#fff" stroke="#000" stroke-width="1.1" transform="rotate(45 717.60 502.00)"/>
<line x1="706.80" y1="542.20" x2="714.90" y2="550.30" stroke="#000" stroke-width="2.15"/>
<rect x="714.10" y="550.65" width="7.0" height="4.7" rx="1.6" fill="#fff" stroke="#000" stroke-width="1.1" transform="rotate(45 717.60 553.00)"/>
<polyline points="734.10,355.00 734.10,566.50 726.00,574.60" fill="none" stroke="#000" stroke-width="1.75" stroke-linejoin="miter" />
<rect x="719.80" y="574.95" width="7.0" height="4.7" rx="1.6" fill="#fff" stroke="#000" stroke-width="1.1" transform="rotate(-45 723.30 577.30)"/>
<line x1="734.10" y1="367.30" x2="726.00" y2="375.40" stroke="#000" stroke-width="2.15"/>
<rect x="719.80" y="375.75" width="7.0" height="4.7" rx="1.6" fill="#fff" stroke="#000" stroke-width="1.1" transform="rotate(-45 723.30 378.10)"/>
<line x1="734.10" y1="416.30" x2="726.00" y2="424.40" stroke="#000" stroke-width="2.15"/>
<rect x="719.80" y="424.75" width="7.0" height="4.7" rx="1.6" fill="#fff" stroke="#000" stroke-width="1.1" transform="rotate(-45 723.30 427.10)"/>
<line x1="734.10" y1="466.30" x2="726.00" y2="474.40" stroke="#000" stroke-width="2.15"/>
<rect x="719.80" y="474.75" width="7.0" height="4.7" rx="1.6" fill="#fff" stroke="#000" stroke-width="1.1" transform="rotate(-45 723.30 477.10)"/>
<line x1="734.10" y1="517.80" x2="726.00" y2="525.90" stroke="#000" stroke-width="2.15"/>
<rect x="719.80" y="526.25" width="7.0" height="4.7" rx="1.6" fill="#fff" stroke="#000" stroke-width="1.1" transform="rotate(-45 723.30 528.60)"/>
<line x1="734.10" y1="390.70" x2="742.20" y2="398.80" stroke="#000" stroke-width="2.15"/>
<rect x="741.40" y="399.15" width="7.0" height="4.7" rx="1.6" fill="#fff" stroke="#000" stroke-width="1.1" transform="rotate(45 744.90 401.50)"/>
<line x1="734.10" y1="442.70" x2="742.20" y2="450.80" stroke="#000" stroke-width="2.15"/>
<rect x="741.40" y="451.15" width="7.0" height="4.7" rx="1.6" fill="#fff" stroke="#000" stroke-width="1.1" transform="rotate(45 744.90 453.50)"/>
<line x1="734.10" y1="491.20" x2="742.20" y2="499.30" stroke="#000" stroke-width="2.15"/>
<rect x="741.40" y="499.65" width="7.0" height="4.7" rx="1.6" fill="#fff" stroke="#000" stroke-width="1.1" transform="rotate(45 744.90 502.00)"/>
<line x1="734.10" y1="542.20" x2="742.20" y2="550.30" stroke="#000" stroke-width="2.15"/>
<rect x="741.40" y="550.65" width="7.0" height="4.7" rx="1.6" fill="#fff" stroke="#000" stroke-width="1.1" transform="rotate(45 744.90 553.00)"/>
<polyline points="761.40,355.00 761.40,566.50 753.30,574.60" fill="none" stroke="#000" stroke-width="1.75" stroke-linejoin="miter" />
<rect x="747.10" y="574.95" width="7.0" height="4.7" rx="1.6" fill="#fff" stroke="#000" stroke-width="1.1" transform="rotate(-45 750.60 577.30)"/>
<line x1="761.40" y1="367.30" x2="753.30" y2="375.40" stroke="#000" stroke-width="2.15"/>
<rect x="747.10" y="375.75" width="7.0" height="4.7" rx="1.6" fill="#fff" stroke="#000" stroke-width="1.1" transform="rotate(-45 750.60 378.10)"/>
<line x1="761.40" y1="416.30" x2="753.30" y2="424.40" stroke="#000" stroke-width="2.15"/>
<rect x="747.10" y="424.75" width="7.0" height="4.7" rx="1.6" fill="#fff" stroke="#000" stroke-width="1.1" transform="rotate(-45 750.60 427.10)"/>
<line x1="761.40" y1="466.30" x2="753.30" y2="474.40" stroke="#000" stroke-width="2.15"/>
<rect x="747.10" y="474.75" width="7.0" height="4.7" rx="1.6" fill="#fff" stroke="#000" stroke-width="1.1" transform="rotate(-45 750.60 477.10)"/>
<line x1="761.40" y1="517.80" x2="753.30" y2="525.90" stroke="#000" stroke-width="2.15"/>
<rect x="747.10" y="526.25" width="7.0" height="4.7" rx="1.6" fill="#fff" stroke="#000" stroke-width="1.1" transform="rotate(-45 750.60 528.60)"/>
<line x1="761.40" y1="390.70" x2="769.50" y2="398.80" stroke="#000" stroke-width="2.15"/>
<rect x="768.70" y="399.15" width="7.0" height="4.7" rx="1.6" fill="#fff" stroke="#000" stroke-width="1.1" transform="rotate(45 772.20 401.50)"/>
<line x1="761.40" y1="442.70" x2="769.50" y2="450.80" stroke="#000" stroke-width="2.15"/>
<rect x="768.70" y="451.15" width="7.0" height="4.7" rx="1.6" fill="#fff" stroke="#000" stroke-width="1.1" transform="rotate(45 772.20 453.50)"/>
<line x1="761.40" y1="491.20" x2="769.50" y2="499.30" stroke="#000" stroke-width="2.15"/>
<rect x="768.70" y="499.65" width="7.0" height="4.7" rx="1.6" fill="#fff" stroke="#000" stroke-width="1.1" transform="rotate(45 772.20 502.00)"/>
<line x1="761.40" y1="542.20" x2="769.50" y2="550.30" stroke="#000" stroke-width="2.15"/>
<rect x="768.70" y="550.65" width="7.0" height="4.7" rx="1.6" fill="#fff" stroke="#000" stroke-width="1.1" transform="rotate(45 772.20 553.00)"/>
<polyline points="788.70,355.00 788.70,566.50 780.60,574.60" fill="none" stroke="#000" stroke-width="1.75" stroke-linejoin="miter" />
<rect x="774.40" y="574.95" width="7.0" height="4.7" rx="1.6" fill="#fff" stroke="#000" stroke-width="1.1" transform="rotate(-45 777.90 577.30)"/>
<line x1="788.70" y1="367.30" x2="780.60" y2="375.40" stroke="#000" stroke-width="2.15"/>
<rect x="774.40" y="375.75" width="7.0" height="4.7" rx="1.6" fill="#fff" stroke="#000" stroke-width="1.1" transform="rotate(-45 777.90 378.10)"/>
<line x1="788.70" y1="416.30" x2="780.60" y2="424.40" stroke="#000" stroke-width="2.15"/>
<rect x="774.40" y="424.75" width="7.0" height="4.7" rx="1.6" fill="#fff" stroke="#000" stroke-width="1.1" transform="rotate(-45 777.90 427.10)"/>
<line x1="788.70" y1="466.30" x2="780.60" y2="474.40" stroke="#000" stroke-width="2.15"/>
<rect x="774.40" y="474.75" width="7.0" height="4.7" rx="1.6" fill="#fff" stroke="#000" stroke-width="1.1" transform="rotate(-45 777.90 477.10)"/>
<line x1="788.70" y1="517.80" x2="780.60" y2="525.90" stroke="#000" stroke-width="2.15"/>
<rect x="774.40" y="526.25" width="7.0" height="4.7" rx="1.6" fill="#fff" stroke="#000" stroke-width="1.1" transform="rotate(-45 777.90 528.60)"/>
<line x1="788.70" y1="390.70" x2="796.80" y2="398.80" stroke="#000" stroke-width="2.15"/>
<rect x="796.00" y="399.15" width="7.0" height="4.7" rx="1.6" fill="#fff" stroke="#000" stroke-width="1.1" transform="rotate(45 799.50 401.50)"/>
<line x1="788.70" y1="442.70" x2="796.80" y2="450.80" stroke="#000" stroke-width="2.15"/>
<rect x="796.00" y="451.15" width="7.0" height="4.7" rx="1.6" fill="#fff" stroke="#000" stroke-width="1.1" transform="rotate(45 799.50 453.50)"/>
<line x1="788.70" y1="491.20" x2="796.80" y2="499.30" stroke="#000" stroke-width="2.15"/>
<rect x="796.00" y="499.65" width="7.0" height="4.7" rx="1.6" fill="#fff" stroke="#000" stroke-width="1.1" transform="rotate(45 799.50 502.00)"/>
<line x1="788.70" y1="542.20" x2="796.80" y2="550.30" stroke="#000" stroke-width="2.15"/>
<rect x="796.00" y="550.65" width="7.0" height="4.7" rx="1.6" fill="#fff" stroke="#000" stroke-width="1.1" transform="rotate(45 799.50 553.00)"/>
<polyline points="816.00,355.00 816.00,566.50 807.90,574.60" fill="none" stroke="#000" stroke-width="1.75" stroke-linejoin="miter" />
<rect x="801.70" y="574.95" width="7.0" height="4.7" rx="1.6" fill="#fff" stroke="#000" stroke-width="1.1" transform="rotate(-45 805.20 577.30)"/>
<line x1="816.00" y1="367.30" x2="807.90" y2="375.40" stroke="#000" stroke-width="2.15"/>
<rect x="801.70" y="375.75" width="7.0" height="4.7" rx="1.6" fill="#fff" stroke="#000" stroke-width="1.1" transform="rotate(-45 805.20 378.10)"/>
<line x1="816.00" y1="416.30" x2="807.90" y2="424.40" stroke="#000" stroke-width="2.15"/>
<rect x="801.70" y="424.75" width="7.0" height="4.7" rx="1.6" fill="#fff" stroke="#000" stroke-width="1.1" transform="rotate(-45 805.20 427.10)"/>
<line x1="816.00" y1="466.30" x2="807.90" y2="474.40" stroke="#000" stroke-width="2.15"/>
<rect x="801.70" y="474.75" width="7.0" height="4.7" rx="1.6" fill="#fff" stroke="#000" stroke-width="1.1" transform="rotate(-45 805.20 477.10)"/>
<line x1="816.00" y1="517.80" x2="807.90" y2="525.90" stroke="#000" stroke-width="2.15"/>
<rect x="801.70" y="526.25" width="7.0" height="4.7" rx="1.6" fill="#fff" stroke="#000" stroke-width="1.1" transform="rotate(-45 805.20 528.60)"/>
<line x1="816.00" y1="390.70" x2="824.10" y2="398.80" stroke="#000" stroke-width="2.15"/>
<rect x="823.30" y="399.15" width="7.0" height="4.7" rx="1.6" fill="#fff" stroke="#000" stroke-width="1.1" transform="rotate(45 826.80 401.50)"/>
<line x1="816.00" y1="442.70" x2="824.10" y2="450.80" stroke="#000" stroke-width="2.15"/>
<rect x="823.30" y="451.15" width="7.0" height="4.7" rx="1.6" fill="#fff" stroke="#000" stroke-width="1.1" transform="rotate(45 826.80 453.50)"/>
<line x1="816.00" y1="491.20" x2="824.10" y2="499.30" stroke="#000" stroke-width="2.15"/>
<rect x="823.30" y="499.65" width="7.0" height="4.7" rx="1.6" fill="#fff" stroke="#000" stroke-width="1.1" transform="rotate(45 826.80 502.00)"/>
<line x1="816.00" y1="542.20" x2="824.10" y2="550.30" stroke="#000" stroke-width="2.15"/>
<rect x="823.30" y="550.65" width="7.0" height="4.7" rx="1.6" fill="#fff" stroke="#000" stroke-width="1.1" transform="rotate(45 826.80 553.00)"/>
<polyline points="580.80,361.00 580.80,571.50 572.70,579.60" fill="none" stroke="#000" stroke-width="1.75" stroke-linejoin="miter" />
<rect x="566.50" y="579.95" width="7.0" height="4.7" rx="1.6" fill="#fff" stroke="#999" stroke-width="1.1" transform="rotate(-45 570.00 582.30)"/>
<line x1="580.80" y1="372.30" x2="572.70" y2="380.40" stroke="#000" stroke-width="2.15"/>
<rect x="566.50" y="380.75" width="7.0" height="4.7" rx="1.6" fill="#fff" stroke="#444" stroke-width="1.1" transform="rotate(-45 570.00 383.10)"/>
<line x1="580.80" y1="421.30" x2="572.70" y2="429.40" stroke="#000" stroke-width="2.15"/>
<rect x="566.50" y="429.75" width="7.0" height="4.7" rx="1.6" fill="#fff" stroke="#444" stroke-width="1.1" transform="rotate(-45 570.00 432.10)"/>
<line x1="580.80" y1="471.30" x2="572.70" y2="479.40" stroke="#000" stroke-width="2.15"/>
<rect x="566.50" y="479.75" width="7.0" height="4.7" rx="1.6" fill="#fff" stroke="#444" stroke-width="1.1" transform="rotate(-45 570.00 482.10)"/>
<line x1="580.80" y1="522.80" x2="572.70" y2="530.90" stroke="#000" stroke-width="2.15"/>
<rect x="566.50" y="531.25" width="7.0" height="4.7" rx="1.6" fill="#fff" stroke="#444" stroke-width="1.1" transform="rotate(-45 570.00 533.60)"/>
<line x1="580.80" y1="395.70" x2="588.90" y2="403.80" stroke="#000" stroke-width="2.15"/>
<rect x="588.10" y="404.15" width="7.0" height="4.7" rx="1.6" fill="#fff" stroke="#000" stroke-width="1.1" transform="rotate(45 591.60 406.50)"/>
<line x1="580.80" y1="447.70" x2="588.90" y2="455.80" stroke="#000" stroke-width="2.15"/>
<rect x="588.10" y="456.15" width="7.0" height="4.7" rx="1.6" fill="#fff" stroke="#000" stroke-width="1.1" transform="rotate(45 591.60 458.50)"/>
<line x1="580.80" y1="496.20" x2="588.90" y2="504.30" stroke="#000" stroke-width="2.15"/>
<rect x="588.10" y="504.65" width="7.0" height="4.7" rx="1.6" fill="#fff" stroke="#000" stroke-width="1.1" transform="rotate(45 591.60 507.00)"/>
<line x1="580.80" y1="547.20" x2="588.90" y2="555.30" stroke="#000" stroke-width="2.15"/>
<rect x="588.10" y="555.65" width="7.0" height="4.7" rx="1.6" fill="#fff" stroke="#000" stroke-width="1.1" transform="rotate(45 591.60 558.00)"/>
<polyline points="352.3,576.5 358.7,615.5 377.2,615.5" fill="none" stroke="#222" stroke-width="1.1"/>
<polyline points="521,615.5 536.8,615.5 795,584" fill="none" stroke="#222" stroke-width="1.1"/>
<rect x="377.2" y="599.1" width="143.9" height="32.7" fill="#111"/>
<text x="382" y="624.4" font-family="Liberation Serif" font-size="23" fill="#fff" stroke="#fff" stroke-width="0.25" xml:space="preserve">Nr. LED:  240</text>
<text x="48.6" y="617" font-family="Liberation Sans" font-size="23.5" fill="#111" stroke="#111" stroke-width="0.3">Mărimea LED-ului</text>
<text x="130" y="639.6" font-family="Liberation Sans" font-size="11" fill="#111">5mm</text>
<text x="165.5" y="666.6" font-family="Liberation Sans" font-size="11.5" fill="#111">5mm</text>
<path d="M130.8,648.6 L135.3,644.85 L135.3,647.3000000000001 L147.5,647.3000000000001 L147.5,644.85 L152,648.6 L147.5,652.35 L147.5,649.9 L135.3,649.9 L135.3,652.35 Z" fill="#000" stroke="#000" stroke-width="0.8" stroke-linejoin="round"/>
<path d="M158.8,654.3 L155.05,658.8 L157.5,658.8 L157.5,668.7 L155.05,668.7 L158.8,673.2 L162.55,668.7 L160.10000000000002,668.7 L160.10000000000002,658.8 L162.55,658.8 Z" fill="#000" stroke="#000" stroke-width="0.8" stroke-linejoin="round"/>
<rect x="205" y="721.4" width="155.4" height="55.1" fill="#111"/>
<text x="217" y="743.7" font-family="Liberation Sans" font-size="17.4" fill="#fff">LED-uri cu lumină</text>
<text x="217" y="764" font-family="Liberation Sans" font-size="17.4" fill="#fff">puternică</text>
<circle cx="141.3" cy="749.7" r="70" fill="#fff" stroke="#000" stroke-width="1.3"/>
<g fill="#fff" stroke="#000" stroke-width="1.1">
<rect x="133.2" y="683.4" width="15.9" height="81"/>
<path d="M131.8,674.2 L131.8,663.5 Q131.8,655.3 141.5,655.3 Q151.2,655.3 151.2,663.5 L151.2,674.2"/>
<path d="M134.3,672.5 L134.3,664 Q134.3,657.8 141.5,657.8 Q147.5,657.8 148.2,662" fill="none" stroke-width="0.8"/>
<rect x="130.5" y="673.5" width="21.8" height="9.9"/>
</g>
<path d="M117.6,673.5 L113.85,678.5 L116.3,678.5 L116.3,760.4 L113.85,760.4 L117.6,765.4 L121.35,760.4 L118.89999999999999,760.4 L118.89999999999999,678.5 L121.35,678.5 Z" fill="#000" stroke="#000" stroke-width="0.8" stroke-linejoin="round"/>
<text x="77.7" y="736.6" font-family="Liberation Sans" font-size="12.2" font-weight="bold" fill="#111">30mm</text>
<g fill="none" stroke="#000" stroke-width="1.15" stroke-linejoin="round" stroke-linecap="round">
<path fill="#fff" d="M53.9,771.6 C60,774 64,776 68,776 C80,774.5 100,773.5 121,773.5 C126,771 131,768.5 145,767.5 C165,767.5 190,768.5 205,769.5 C215,770.5 224,772 230.7,775.5 L220.6,789 C205,787 185,785 165,785 C150,785.5 135,788 118,788.5 C100,790 84,790 72,788.5 L66.3,789.5 Z"/>
<path d="M53.9,771.6 C62,776 70,779 76,780.5 C88,784 100,786.5 118.5,788.2 C128,787.5 136,786 145,784.5 C158,783 168,784 175,784.5"/>
<path d="M68,776 C74,777.5 80,779 86,779.3 C100,779.5 115,779 127,782.3 C135,784 140,784.5 148,785.5"/>
<path d="M77,779.4 C88,778.5 98,778.2 104,778.3 C118,778.5 128,779.5 138,781.5 C145,782.5 150,782 156,781"/>
<path d="M62,781 C70,785 78,788 86,789"/>
<path d="M121,773.5 C130,774.5 142,777.5 152,781 C160,783.5 170,785 178,785.5"/>
<path d="M145,767.5 C155,770 165,774.5 178,779.5 C188,783 196,786 204,787.5"/>
<path d="M166,768 C178,771 190,776.5 202,781.5 C210,785 216,787.5 221,788.8"/>
<path d="M186,769 C196,772 206,776.5 214,780.5 C220,783.5 225,785.5 226,782"/>
<path d="M203,769.5 C212,772 220,775 226,778.5"/>
<path d="M150,784 C165,782.5 185,782 205,783"/>
</g>
<text x="864.5" y="587" font-family="Liberation Sans" font-size="23" fill="#111" stroke="#111" stroke-width="0.3">Spațiere</text>
<line x1="780.8" y1="609.4" x2="1011" y2="609.4" stroke="#000" stroke-width="1.8"/>
<polyline points="800.40,609.40 800.40,821.60 792.30,829.70" fill="none" stroke="#000" stroke-width="1.75" stroke-linejoin="miter" />
<rect x="786.10" y="830.05" width="7.0" height="4.7" rx="1.6" fill="#fff" stroke="#000" stroke-width="1.1" transform="rotate(-45 789.60 832.40)"/>
<line x1="800.40" y1="622.70" x2="792.30" y2="630.80" stroke="#000" stroke-width="2.15"/>
<rect x="786.10" y="631.15" width="7.0" height="4.7" rx="1.6" fill="#fff" stroke="#000" stroke-width="1.1" transform="rotate(-45 789.60 633.50)"/>
<line x1="800.40" y1="671.40" x2="792.30" y2="679.50" stroke="#000" stroke-width="2.15"/>
<rect x="786.10" y="679.85" width="7.0" height="4.7" rx="1.6" fill="#fff" stroke="#000" stroke-width="1.1" transform="rotate(-45 789.60 682.20)"/>
<line x1="800.40" y1="722.20" x2="792.30" y2="730.30" stroke="#000" stroke-width="2.15"/>
<rect x="786.10" y="730.65" width="7.0" height="4.7" rx="1.6" fill="#fff" stroke="#000" stroke-width="1.1" transform="rotate(-45 789.60 733.00)"/>
<line x1="800.40" y1="773.00" x2="792.30" y2="781.10" stroke="#000" stroke-width="2.15"/>
<rect x="786.10" y="781.45" width="7.0" height="4.7" rx="1.6" fill="#fff" stroke="#000" stroke-width="1.1" transform="rotate(-45 789.60 783.80)"/>
<line x1="800.40" y1="646.50" x2="808.50" y2="654.60" stroke="#000" stroke-width="2.15"/>
<rect x="807.70" y="654.95" width="7.0" height="4.7" rx="1.6" fill="#fff" stroke="#000" stroke-width="1.1" transform="rotate(45 811.20 657.30)"/>
<line x1="800.40" y1="698.40" x2="808.50" y2="706.50" stroke="#000" stroke-width="2.15"/>
<rect x="807.70" y="706.85" width="7.0" height="4.7" rx="1.6" fill="#fff" stroke="#000" stroke-width="1.1" transform="rotate(45 811.20 709.20)"/>
<line x1="800.40" y1="747.00" x2="808.50" y2="755.10" stroke="#000" stroke-width="2.15"/>
<rect x="807.70" y="755.45" width="7.0" height="4.7" rx="1.6" fill="#fff" stroke="#000" stroke-width="1.1" transform="rotate(45 811.20 757.80)"/>
<line x1="800.40" y1="796.80" x2="808.50" y2="804.90" stroke="#000" stroke-width="2.15"/>
<rect x="807.70" y="805.25" width="7.0" height="4.7" rx="1.6" fill="#fff" stroke="#000" stroke-width="1.1" transform="rotate(45 811.20 807.60)"/>
<polyline points="839.82,609.40 839.82,821.60 831.72,829.70" fill="none" stroke="#000" stroke-width="1.75" stroke-linejoin="miter" />
<rect x="825.52" y="830.05" width="7.0" height="4.7" rx="1.6" fill="#fff" stroke="#000" stroke-width="1.1" transform="rotate(-45 829.02 832.40)"/>
<line x1="839.82" y1="622.70" x2="831.72" y2="630.80" stroke="#000" stroke-width="2.15"/>
<rect x="825.52" y="631.15" width="7.0" height="4.7" rx="1.6" fill="#fff" stroke="#000" stroke-width="1.1" transform="rotate(-45 829.02 633.50)"/>
<line x1="839.82" y1="671.40" x2="831.72" y2="679.50" stroke="#000" stroke-width="2.15"/>
<rect x="825.52" y="679.85" width="7.0" height="4.7" rx="1.6" fill="#fff" stroke="#000" stroke-width="1.1" transform="rotate(-45 829.02 682.20)"/>
<line x1="839.82" y1="722.20" x2="831.72" y2="730.30" stroke="#000" stroke-width="2.15"/>
<rect x="825.52" y="730.65" width="7.0" height="4.7" rx="1.6" fill="#fff" stroke="#000" stroke-width="1.1" transform="rotate(-45 829.02 733.00)"/>
<line x1="839.82" y1="773.00" x2="831.72" y2="781.10" stroke="#000" stroke-width="2.15"/>
<rect x="825.52" y="781.45" width="7.0" height="4.7" rx="1.6" fill="#fff" stroke="#000" stroke-width="1.1" transform="rotate(-45 829.02 783.80)"/>
<line x1="839.82" y1="646.50" x2="847.92" y2="654.60" stroke="#000" stroke-width="2.15"/>
<rect x="847.12" y="654.95" width="7.0" height="4.7" rx="1.6" fill="#fff" stroke="#000" stroke-width="1.1" transform="rotate(45 850.62 657.30)"/>
<line x1="839.82" y1="698.40" x2="847.92" y2="706.50" stroke="#000" stroke-width="2.15"/>
<rect x="847.12" y="706.85" width="7.0" height="4.7" rx="1.6" fill="#fff" stroke="#000" stroke-width="1.1" transform="rotate(45 850.62 709.20)"/>
<line x1="839.82" y1="747.00" x2="847.92" y2="755.10" stroke="#000" stroke-width="2.15"/>
<rect x="847.12" y="755.45" width="7.0" height="4.7" rx="1.6" fill="#fff" stroke="#000" stroke-width="1.1" transform="rotate(45 850.62 757.80)"/>
<line x1="839.82" y1="796.80" x2="847.92" y2="804.90" stroke="#000" stroke-width="2.15"/>
<rect x="847.12" y="805.25" width="7.0" height="4.7" rx="1.6" fill="#fff" stroke="#000" stroke-width="1.1" transform="rotate(45 850.62 807.60)"/>
<polyline points="879.24,609.40 879.24,821.60 871.14,829.70" fill="none" stroke="#000" stroke-width="1.75" stroke-linejoin="miter" />
<rect x="864.94" y="830.05" width="7.0" height="4.7" rx="1.6" fill="#fff" stroke="#000" stroke-width="1.1" transform="rotate(-45 868.44 832.40)"/>
<line x1="879.24" y1="622.70" x2="871.14" y2="630.80" stroke="#000" stroke-width="2.15"/>
<rect x="864.94" y="631.15" width="7.0" height="4.7" rx="1.6" fill="#fff" stroke="#000" stroke-width="1.1" transform="rotate(-45 868.44 633.50)"/>
<line x1="879.24" y1="671.40" x2="871.14" y2="679.50" stroke="#000" stroke-width="2.15"/>
<rect x="864.94" y="679.85" width="7.0" height="4.7" rx="1.6" fill="#fff" stroke="#000" stroke-width="1.1" transform="rotate(-45 868.44 682.20)"/>
<line x1="879.24" y1="722.20" x2="871.14" y2="730.30" stroke="#000" stroke-width="2.15"/>
<rect x="864.94" y="730.65" width="7.0" height="4.7" rx="1.6" fill="#fff" stroke="#000" stroke-width="1.1" transform="rotate(-45 868.44 733.00)"/>
<line x1="879.24" y1="773.00" x2="871.14" y2="781.10" stroke="#000" stroke-width="2.15"/>
<rect x="864.94" y="781.45" width="7.0" height="4.7" rx="1.6" fill="#fff" stroke="#000" stroke-width="1.1" transform="rotate(-45 868.44 783.80)"/>
<line x1="879.24" y1="646.50" x2="887.34" y2="654.60" stroke="#000" stroke-width="2.15"/>
<rect x="886.54" y="654.95" width="7.0" height="4.7" rx="1.6" fill="#fff" stroke="#000" stroke-width="1.1" transform="rotate(45 890.04 657.30)"/>
<line x1="879.24" y1="698.40" x2="887.34" y2="706.50" stroke="#000" stroke-width="2.15"/>
<rect x="886.54" y="706.85" width="7.0" height="4.7" rx="1.6" fill="#fff" stroke="#000" stroke-width="1.1" transform="rotate(45 890.04 709.20)"/>
<line x1="879.24" y1="747.00" x2="887.34" y2="755.10" stroke="#000" stroke-width="2.15"/>
<rect x="886.54" y="755.45" width="7.0" height="4.7" rx="1.6" fill="#fff" stroke="#000" stroke-width="1.1" transform="rotate(45 890.04 757.80)"/>
<line x1="879.24" y1="796.80" x2="887.34" y2="804.90" stroke="#000" stroke-width="2.15"/>
<rect x="886.54" y="805.25" width="7.0" height="4.7" rx="1.6" fill="#fff" stroke="#000" stroke-width="1.1" transform="rotate(45 890.04 807.60)"/>
<polyline points="918.66,609.40 918.66,821.60 910.56,829.70" fill="none" stroke="#000" stroke-width="1.75" stroke-linejoin="miter" />
<rect x="904.36" y="830.05" width="7.0" height="4.7" rx="1.6" fill="#fff" stroke="#000" stroke-width="1.1" transform="rotate(-45 907.86 832.40)"/>
<line x1="918.66" y1="622.70" x2="910.56" y2="630.80" stroke="#000" stroke-width="2.15"/>
<rect x="904.36" y="631.15" width="7.0" height="4.7" rx="1.6" fill="#fff" stroke="#000" stroke-width="1.1" transform="rotate(-45 907.86 633.50)"/>
<line x1="918.66" y1="671.40" x2="910.56" y2="679.50" stroke="#000" stroke-width="2.15"/>
<rect x="904.36" y="679.85" width="7.0" height="4.7" rx="1.6" fill="#fff" stroke="#000" stroke-width="1.1" transform="rotate(-45 907.86 682.20)"/>
<line x1="918.66" y1="722.20" x2="910.56" y2="730.30" stroke="#000" stroke-width="2.15"/>
<rect x="904.36" y="730.65" width="7.0" height="4.7" rx="1.6" fill="#fff" stroke="#000" stroke-width="1.1" transform="rotate(-45 907.86 733.00)"/>
<line x1="918.66" y1="773.00" x2="910.56" y2="781.10" stroke="#000" stroke-width="2.15"/>
<rect x="904.36" y="781.45" width="7.0" height="4.7" rx="1.6" fill="#fff" stroke="#000" stroke-width="1.1" transform="rotate(-45 907.86 783.80)"/>
<line x1="918.66" y1="646.50" x2="926.76" y2="654.60" stroke="#000" stroke-width="2.15"/>
<rect x="925.96" y="654.95" width="7.0" height="4.7" rx="1.6" fill="#fff" stroke="#000" stroke-width="1.1" transform="rotate(45 929.46 657.30)"/>
<line x1="918.66" y1="698.40" x2="926.76" y2="706.50" stroke="#000" stroke-width="2.15"/>
<rect x="925.96" y="706.85" width="7.0" height="4.7" rx="1.6" fill="#fff" stroke="#000" stroke-width="1.1" transform="rotate(45 929.46 709.20)"/>
<line x1="918.66" y1="747.00" x2="926.76" y2="755.10" stroke="#000" stroke-width="2.15"/>
<rect x="925.96" y="755.45" width="7.0" height="4.7" rx="1.6" fill="#fff" stroke="#000" stroke-width="1.1" transform="rotate(45 929.46 757.80)"/>
<line x1="918.66" y1="796.80" x2="926.76" y2="804.90" stroke="#000" stroke-width="2.15"/>
<rect x="925.96" y="805.25" width="7.0" height="4.7" rx="1.6" fill="#fff" stroke="#000" stroke-width="1.1" transform="rotate(45 929.46 807.60)"/>
<polyline points="958.08,609.40 958.08,821.60 949.98,829.70" fill="none" stroke="#000" stroke-width="1.75" stroke-linejoin="miter" />
<rect x="943.78" y="830.05" width="7.0" height="4.7" rx="1.6" fill="#fff" stroke="#000" stroke-width="1.1" transform="rotate(-45 947.28 832.40)"/>
<line x1="958.08" y1="622.70" x2="949.98" y2="630.80" stroke="#000" stroke-width="2.15"/>
<rect x="943.78" y="631.15" width="7.0" height="4.7" rx="1.6" fill="#fff" stroke="#000" stroke-width="1.1" transform="rotate(-45 947.28 633.50)"/>
<line x1="958.08" y1="671.40" x2="949.98" y2="679.50" stroke="#000" stroke-width="2.15"/>
<rect x="943.78" y="679.85" width="7.0" height="4.7" rx="1.6" fill="#fff" stroke="#000" stroke-width="1.1" transform="rotate(-45 947.28 682.20)"/>
<line x1="958.08" y1="722.20" x2="949.98" y2="730.30" stroke="#000" stroke-width="2.15"/>
<rect x="943.78" y="730.65" width="7.0" height="4.7" rx="1.6" fill="#fff" stroke="#000" stroke-width="1.1" transform="rotate(-45 947.28 733.00)"/>
<line x1="958.08" y1="773.00" x2="949.98" y2="781.10" stroke="#000" stroke-width="2.15"/>
<rect x="943.78" y="781.45" width="7.0" height="4.7" rx="1.6" fill="#fff" stroke="#000" stroke-width="1.1" transform="rotate(-45 947.28 783.80)"/>
<line x1="958.08" y1="646.50" x2="966.18" y2="654.60" stroke="#000" stroke-width="2.15"/>
<rect x="965.38" y="654.95" width="7.0" height="4.7" rx="1.6" fill="#fff" stroke="#000" stroke-width="1.1" transform="rotate(45 968.88 657.30)"/>
<line x1="958.08" y1="698.40" x2="966.18" y2="706.50" stroke="#000" stroke-width="2.15"/>
<rect x="965.38" y="706.85" width="7.0" height="4.7" rx="1.6" fill="#fff" stroke="#000" stroke-width="1.1" transform="rotate(45 968.88 709.20)"/>
<line x1="958.08" y1="747.00" x2="966.18" y2="755.10" stroke="#000" stroke-width="2.15"/>
<rect x="965.38" y="755.45" width="7.0" height="4.7" rx="1.6" fill="#fff" stroke="#000" stroke-width="1.1" transform="rotate(45 968.88 757.80)"/>
<line x1="958.08" y1="796.80" x2="966.18" y2="804.90" stroke="#000" stroke-width="2.15"/>
<rect x="965.38" y="805.25" width="7.0" height="4.7" rx="1.6" fill="#fff" stroke="#000" stroke-width="1.1" transform="rotate(45 968.88 807.60)"/>
<polyline points="997.50,609.40 997.50,821.60 989.40,829.70" fill="none" stroke="#000" stroke-width="1.75" stroke-linejoin="miter" />
<rect x="983.20" y="830.05" width="7.0" height="4.7" rx="1.6" fill="#fff" stroke="#000" stroke-width="1.1" transform="rotate(-45 986.70 832.40)"/>
<line x1="997.50" y1="622.70" x2="989.40" y2="630.80" stroke="#000" stroke-width="2.15"/>
<rect x="983.20" y="631.15" width="7.0" height="4.7" rx="1.6" fill="#fff" stroke="#000" stroke-width="1.1" transform="rotate(-45 986.70 633.50)"/>
<line x1="997.50" y1="671.40" x2="989.40" y2="679.50" stroke="#000" stroke-width="2.15"/>
<rect x="983.20" y="679.85" width="7.0" height="4.7" rx="1.6" fill="#fff" stroke="#000" stroke-width="1.1" transform="rotate(-45 986.70 682.20)"/>
<line x1="997.50" y1="722.20" x2="989.40" y2="730.30" stroke="#000" stroke-width="2.15"/>
<rect x="983.20" y="730.65" width="7.0" height="4.7" rx="1.6" fill="#fff" stroke="#000" stroke-width="1.1" transform="rotate(-45 986.70 733.00)"/>
<line x1="997.50" y1="773.00" x2="989.40" y2="781.10" stroke="#000" stroke-width="2.15"/>
<rect x="983.20" y="781.45" width="7.0" height="4.7" rx="1.6" fill="#fff" stroke="#000" stroke-width="1.1" transform="rotate(-45 986.70 783.80)"/>
<line x1="997.50" y1="646.50" x2="1005.60" y2="654.60" stroke="#000" stroke-width="2.15"/>
<rect x="1004.80" y="654.95" width="7.0" height="4.7" rx="1.6" fill="#fff" stroke="#000" stroke-width="1.1" transform="rotate(45 1008.30 657.30)"/>
<line x1="997.50" y1="698.40" x2="1005.60" y2="706.50" stroke="#000" stroke-width="2.15"/>
<rect x="1004.80" y="706.85" width="7.0" height="4.7" rx="1.6" fill="#fff" stroke="#000" stroke-width="1.1" transform="rotate(45 1008.30 709.20)"/>
<line x1="997.50" y1="747.00" x2="1005.60" y2="755.10" stroke="#000" stroke-width="2.15"/>
<rect x="1004.80" y="755.45" width="7.0" height="4.7" rx="1.6" fill="#fff" stroke="#000" stroke-width="1.1" transform="rotate(45 1008.30 757.80)"/>
<line x1="997.50" y1="796.80" x2="1005.60" y2="804.90" stroke="#000" stroke-width="2.15"/>
<rect x="1004.80" y="805.25" width="7.0" height="4.7" rx="1.6" fill="#fff" stroke="#000" stroke-width="1.1" transform="rotate(45 1008.30 807.60)"/>
<polyline points="800.3,646.2 681.9,662.9 800.3,669.4" fill="none" stroke="#222" stroke-width="1.1"/>
<text x="639.8" y="668.6" font-family="Liberation Sans" font-size="15.5" font-weight="bold" fill="#111">9 cm</text>
<path d="M1023.8,613.5 L1017.8,619.5 L1021.8,619.5 L1021.8,827.1 L1017.8,827.1 L1023.8,833.1 L1029.8,827.1 L1025.8,827.1 L1025.8,619.5 L1029.8,619.5 Z" fill="#000" stroke="#000" stroke-width="0.8" stroke-linejoin="round"/>
<text x="1032.3" y="710.4" font-family="Liberation Sans" font-size="22.6" font-weight="bold" fill="#111">2 m</text>
<path d="M919.3,841.2 L925.3,835.45 L925.3,838.7 L951.7,838.7 L951.7,835.45 L957.7,841.2 L951.7,846.95 L951.7,843.7 L925.3,843.7 L925.3,846.95 Z" fill="#000" stroke="#000" stroke-width="0.8" stroke-linejoin="round"/>
<text x="917.4" y="860.9" font-family="Liberation Sans" font-size="15.3" font-weight="bold" fill="#111">16 cm</text>
<text x="117.5" y="903.9" font-family="Liberation Sans" font-size="23.15" fill="#111" stroke="#111" stroke-width="0.3">*Dimensiunile produsului sunt aproximative și variază din cauza îndoiturilor din cablu.</text>
</svg>
</body></html>
